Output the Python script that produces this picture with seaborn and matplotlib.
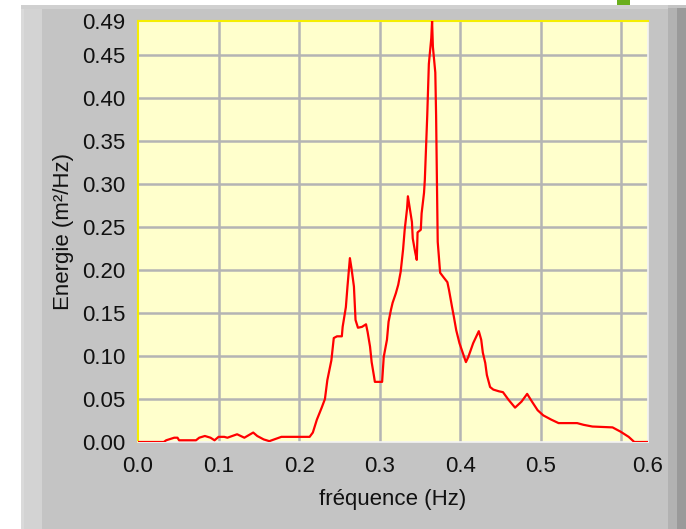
import matplotlib
matplotlib.use("Agg")
import matplotlib.pyplot as plt
from matplotlib.patches import Rectangle
import seaborn as sns

# spectrum (Hz, m²/Hz)
freq = [0.000, 0.032, 0.035, 0.045, 0.049, 0.051, 0.072, 0.076, 0.083, 0.090,
        0.095, 0.100, 0.107, 0.111, 0.123, 0.132, 0.143, 0.148, 0.156, 0.163,
        0.169, 0.178, 0.213, 0.217, 0.222, 0.228, 0.232, 0.235, 0.240, 0.243,
        0.247, 0.253, 0.254, 0.258, 0.260, 0.263, 0.265, 0.268, 0.270, 0.273,
        0.278, 0.283, 0.285, 0.288, 0.290, 0.293, 0.294, 0.303, 0.305, 0.309,
        0.311, 0.314, 0.316, 0.320, 0.323, 0.326, 0.329, 0.331, 0.334, 0.335,
        0.337, 0.340, 0.341, 0.344, 0.346, 0.347, 0.351, 0.352, 0.355, 0.356,
        0.359, 0.361, 0.364, 0.365, 0.366, 0.369, 0.370, 0.371, 0.372, 0.375,
        0.379, 0.384, 0.386, 0.390, 0.392, 0.395, 0.399, 0.403, 0.407, 0.410,
        0.413, 0.416, 0.421, 0.423, 0.426, 0.428, 0.431, 0.433, 0.437, 0.441,
        0.448, 0.453, 0.460, 0.468, 0.476, 0.483, 0.489, 0.496, 0.503, 0.513,
        0.522, 0.545, 0.553, 0.564, 0.589, 0.599, 0.609, 0.616, 0.633]
energy = [0.000, 0.000, 0.002, 0.005, 0.005, 0.002, 0.002, 0.005, 0.007, 0.005,
          0.002, 0.006, 0.006, 0.005, 0.009, 0.005, 0.011, 0.007, 0.003, 0.001,
          0.003, 0.006, 0.006, 0.011, 0.026, 0.040, 0.050, 0.072, 0.095, 0.121,
          0.123, 0.123, 0.134, 0.157, 0.181, 0.214, 0.202, 0.181, 0.142, 0.133,
          0.134, 0.137, 0.128, 0.111, 0.093, 0.076, 0.070, 0.070, 0.099, 0.119,
          0.140, 0.154, 0.162, 0.173, 0.183, 0.198, 0.224, 0.247, 0.272, 0.286,
          0.274, 0.256, 0.237, 0.221, 0.212, 0.244, 0.247, 0.266, 0.290, 0.305,
          0.380, 0.440, 0.470, 0.490, 0.460, 0.430, 0.380, 0.305, 0.233, 0.197,
          0.192, 0.186, 0.177, 0.156, 0.146, 0.130, 0.115, 0.104, 0.093, 0.099,
          0.107, 0.115, 0.125, 0.129, 0.119, 0.104, 0.092, 0.078, 0.064, 0.061,
          0.059, 0.058, 0.049, 0.040, 0.047, 0.056, 0.047, 0.037, 0.031, 0.026,
          0.022, 0.022, 0.020, 0.018, 0.017, 0.012, 0.006, 0.000, 0.000]

x_ticks = [0.0, 0.1, 0.2, 0.3, 0.4, 0.5, 0.633]
x_tick_labels = ["0.0", "0.1", "0.2", "0.3", "0.4", "0.5", "0.6"]
x_grid = [0.1, 0.2, 0.3, 0.4, 0.5, 0.6]
y_ticks = [0.0, 0.05, 0.10, 0.15, 0.20, 0.25, 0.30, 0.35, 0.40, 0.45, 0.49]
y_tick_labels = ["0.00", "0.05", "0.10", "0.15", "0.20", "0.25", "0.30",
                 "0.35", "0.40", "0.45", "0.49"]

sns.set_style("white")
plt.rcParams["font.family"] = ["Liberation Sans", "DejaVu Sans"]

W, H = 686, 529
fig = plt.figure(figsize=(W / 100, H / 100), dpi=100, facecolor="white")


def px_rect(x0, y0, x1, y1, color):
    # rectangle in image pixel coords (y from the top)
    r = Rectangle((x0 / W, 1 - y1 / H), (x1 - x0) / W, (y1 - y0) / H,
                  transform=fig.transFigure, facecolor=color, edgecolor="none", zorder=-5)
    fig.add_artist(r)


# LabVIEW style panel
px_rect(21, 5, 686, 529, "#c4c4c4")
px_rect(21, 5, 42, 529, "#d3d3d3")
px_rect(21, 5, 24, 529, "#dadada")
px_rect(21, 5, 668, 9, "#d0d0d0")
px_rect(668, 8, 677, 529, "#b2b2b2")
px_rect(677, 8, 686, 529, "#9a9a9a")
px_rect(617, 0, 630, 5, "#6aae1c")

ax = fig.add_axes([138 / W, 1 - 442 / H, 510 / W, 421 / H])
ax.set_facecolor("#ffffcc")

for g in x_grid:
    ax.axvline(g, color="#b4b4b4", lw=1.8, zorder=0.5)
for g in y_ticks[1:-1]:
    ax.axhline(g, color="#b4b4b4", lw=1.8, zorder=0.5)

sns.lineplot(x=freq, y=energy, ax=ax, color="#ff0000", lw=1.6,
             estimator=None, sort=False, zorder=3)

ax.set_xlim(0, 0.633)
ax.set_ylim(0, 0.49)
ax.set_xticks(x_ticks)
ax.set_xticklabels(x_tick_labels)
ax.set_yticks(y_ticks)
ax.set_yticklabels(y_tick_labels)
ax.tick_params(axis="both", direction="out", length=7, width=1.5, color="#222222",
               labelsize=16, labelcolor="#111111")
ax.tick_params(axis="x", pad=3)
ax.tick_params(axis="y", pad=2)

for side in ["left", "top"]:
    ax.spines[side].set_color("#f5ee00")
    ax.spines[side].set_linewidth(1.5)
for side in ["right", "bottom"]:
    ax.spines[side].set_color("#f4f4f4")
    ax.spines[side].set_linewidth(1.2)

ax.set_xlabel("fréquence (Hz)", fontsize=16, color="#111111", labelpad=9)
ax.set_ylabel("Energie (m²/Hz)", fontsize=16, color="#111111", labelpad=6)

fig.savefig("out.png", dpi=100, facecolor="white")
